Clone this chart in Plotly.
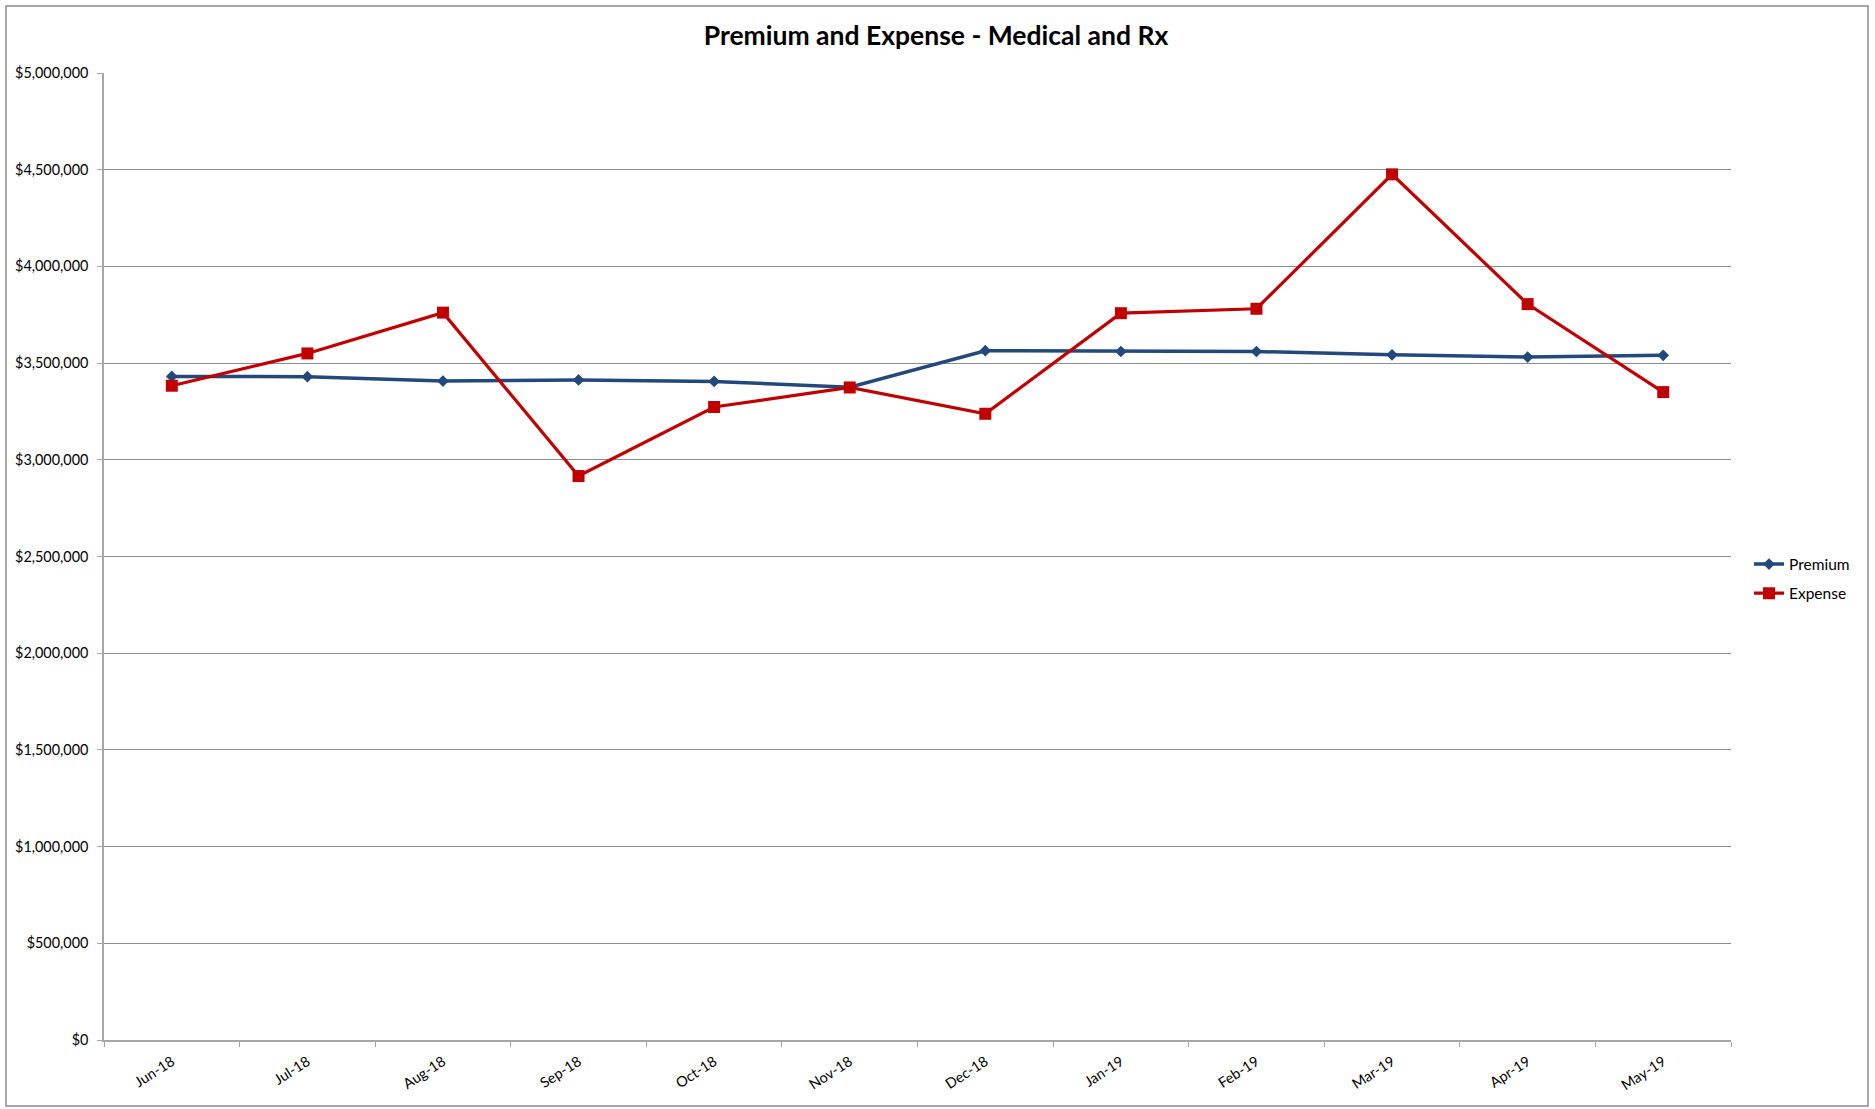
import plotly.graph_objects as go

months = ["Jun-18", "Jul-18", "Aug-18", "Sep-18", "Oct-18", "Nov-18",
          "Dec-18", "Jan-19", "Feb-19", "Mar-19", "Apr-19", "May-19"]
premium = [3431000, 3430000, 3407000, 3413000, 3405000, 3375000,
           3564000, 3560000, 3560000, 3543000, 3531000, 3540000]
expense = [3383000, 3550000, 3761000, 2916000, 3273000, 3374000,
           3238000, 3758000, 3781000, 4476000, 3805000, 3350000]

FONT = "Lato, 'Open Sans', sans-serif"
W, H = 1875, 1109
L, R, T, B = 104, 1731, 73, 1040

fig = go.Figure()
fig.add_trace(go.Scatter(
    x=months, y=premium, name="Premium", mode="lines+markers",
    legendgroup="p",
    line=dict(color="#23497C", width=3.5),
    marker=dict(symbol="diamond", size=9, color="#23497C"),
))
fig.add_trace(go.Scatter(
    x=months, y=expense, name="Expense", mode="lines+markers",
    legendgroup="e",
    line=dict(color="#C00000", width=3.2),
    marker=dict(symbol="square", size=12, color="#C00000"),
))

pw, ph = R - L, B - T
fig.add_shape(type="rect", xref="paper", yref="paper",
              x0=(6 - L) / pw, x1=(1868 - L) / pw,
              y0=(B - 1106) / ph, y1=(B - 6) / ph,
              line=dict(color="#8C8C8C", width=1.5), layer="below")

fig.update_layout(
    width=W, height=H,
    margin=dict(l=L, r=W - R, t=T, b=H - B),
    paper_bgcolor="white", plot_bgcolor="white",
    font=dict(family=FONT, size=14, color="#000000"),
    title=dict(text="<b>Premium and Expense - Medical and Rx</b>",
               x=936 / W, xanchor="center", y=1 - 36 / H, yanchor="middle",
               font=dict(family=FONT, size=26.5, color="#000000")),
    legend=dict(x=(1749 - L) / pw, y=(B - 579) / ph,
                xanchor="left", yanchor="middle",
                font=dict(family=FONT, size=15.5), bgcolor="rgba(0,0,0,0)",
                itemwidth=30, tracegroupgap=6),
    showlegend=True,
)
fig.update_xaxes(
    type="category", range=[-0.5, 11.5], showgrid=False,
    showline=True, linecolor="#A6A6A6", linewidth=1.5,
    ticks="outside", tickson="boundaries", ticklen=5, tickcolor="#A6A6A6",
    tickangle=-33, tickfont=dict(family=FONT, size=14.4),
    ticklabelstandoff=6,
)
fig.update_yaxes(
    range=[0, 5000000], dtick=500000, tickformat="$,.0f",
    showgrid=True, gridcolor="#8C8C8C", gridwidth=1,
    showline=True, linecolor="#A6A6A6", linewidth=1.5,
    zeroline=False,
    ticks="outside", ticklen=5, tickcolor="#A6A6A6",
    tickfont=dict(family=FONT, size=14.4),
    ticklabelstandoff=6,
)

fig.write_html("out.html",
               config={"displayModeBar": False},
               post_script="document.body.style.margin='0px';document.body.style.overflow='hidden';")
